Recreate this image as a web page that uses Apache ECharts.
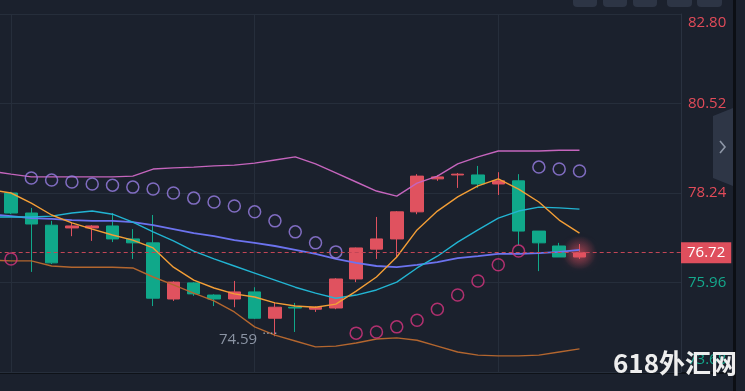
<!DOCTYPE html>
<html><head><meta charset="utf-8">
<script src="https://cdn.jsdelivr.net/npm/echarts@6/dist/echarts.min.js"></script>
<style>html,body{margin:0;padding:0;background:#1b212d;overflow:hidden}#c{width:745px;height:391px}</style>
</head><body><div id="c"></div>
<script>
const categories = ['k00','k01','k02','k03','k04','k05','k06','k07','k08','k09','k10','k11','k12','k13','k14','k15','k16','k17','k18','k19','k20','k21','k22','k23','k24','k25','k26','k27','k28','k29','k30','k31','k32','k33','k34'];
const opens  = [null, 78.24, 77.73, 77.42, 77.35, 77.35, 77.40, 77.07, 76.97, 75.54, 75.95, 75.64, 75.54, 75.72, 75.05, 75.33, 75.28, 75.31, 76.05, 76.81, 77.07, 77.76, 78.60, 78.70, 78.70, 78.47, 78.55, 77.27, 76.89, 76.61];
const closes = [null, 77.73, 77.45, 76.46, 77.40, 77.40, 77.07, 76.97, 75.56, 75.97, 75.67, 75.54, 75.72, 75.05, 75.33, 75.31, 75.33, 76.05, 76.84, 77.07, 77.76, 78.67, 78.65, 78.72, 78.47, 78.55, 77.27, 76.97, 76.61, 76.72];
const lows   = [null, 77.70, 76.23, 76.43, 77.14, 77.02, 76.99, 76.56, 75.36, 75.49, 75.62, 75.36, 75.33, 75.03, 74.59, 74.70, 75.21, 75.28, 75.97, 76.56, 76.58, 77.70, 78.55, 78.37, 78.37, 78.19, 76.91, 76.25, 76.61, 76.56];
const highs  = [null, 78.27, 77.86, 77.53, 77.48, 77.42, 77.73, 77.32, 77.68, 75.99, 75.97, 75.66, 76.00, 75.84, 75.44, 75.44, 75.35, 76.07, 76.85, 77.63, 77.78, 78.72, 78.70, 78.75, 78.93, 78.77, 78.72, 77.27, 76.97, 76.94];
const bollUpper = [78.80, 78.72, 78.65, 78.65, 78.65, 78.65, 78.65, 78.67, 78.85, 78.88, 78.90, 78.93, 78.95, 79.00, 79.08, 79.16, 78.98, 78.75, 78.52, 78.29, 78.16, 78.49, 78.67, 78.98, 79.16, 79.31, 79.31, 79.31, 79.33, 79.33];
const bollMid   = [77.70, 77.65, 77.60, 77.58, 77.55, 77.53, 77.53, 77.50, 77.42, 77.32, 77.22, 77.14, 77.04, 76.97, 76.89, 76.79, 76.69, 76.56, 76.46, 76.38, 76.35, 76.41, 76.48, 76.58, 76.63, 76.69, 76.69, 76.71, 76.74, 76.79];
const bollLower = [76.53, 76.51, 76.51, 76.38, 76.35, 76.35, 76.35, 76.33, 76.10, 75.90, 75.69, 75.49, 75.21, 74.83, 74.62, 74.47, 74.32, 74.34, 74.42, 74.52, 74.55, 74.49, 74.34, 74.19, 74.11, 74.09, 74.09, 74.11, 74.19, 74.27];
const maFast = [78.32, 78.24, 77.98, 77.68, 77.48, 77.32, 77.17, 77.04, 76.84, 76.35, 76.02, 75.82, 75.67, 75.59, 75.44, 75.36, 75.33, 75.41, 75.74, 76.10, 76.61, 77.30, 77.78, 78.14, 78.42, 78.60, 78.34, 78.01, 77.55, 77.22];
const maSlow = [77.63, 77.63, 77.63, 77.65, 77.73, 77.78, 77.70, 77.50, 77.25, 77.02, 76.76, 76.56, 76.38, 76.20, 76.02, 75.84, 75.69, 75.56, 75.64, 75.77, 75.97, 76.33, 76.63, 76.99, 77.30, 77.60, 77.78, 77.88, 77.86, 77.83];
const sar = [null, 76.56, 78.62, 78.57, 78.52, 78.47, 78.44, 78.39, 78.34, 78.24, 78.11, 78.01, 77.91, 77.76, 77.53, 77.25, 76.97, 76.74, 74.67, 74.70, 74.83, 75.00, 75.28, 75.64, 76.00, 76.41, 76.76, 78.90, 78.85, 78.80];
const yTicks = [73.68, 75.96, 78.24, 80.52, 82.80];

const RED = '#e0525f', GREEN = '#10a88a', TEAL_TXT = '#14a88c', RED_TXT = '#e24b59';
const lastIdx = closes.length - 1;
const lastPrice = closes[lastIdx];
const yMin = yTicks[0], yMax = yTicks[yTicks.length - 1];
const yStep = Math.round((yTicks[1] - yTicks[0]) * 100) / 100;
const FONT = '"Open Sans", Roboto, sans-serif';

const candleData = opens.map((o, i) => {
  if (o == null) return '-';
  const v = [o, closes[i], lows[i], highs[i]];
  if (i === lastIdx) return { value: v, itemStyle: { shadowBlur: 14, shadowColor: 'rgba(240,85,100,1)' } };
  return v;
});
const sarData = sar.map((v, i) => v == null ? null : {
  value: [i, v],
  itemStyle: { borderColor: v > closes[i] ? '#9a80e6' : '#d7357f' }
});

function line(name, data, color, width) {
  return { name, type: 'line', data, symbol: 'none', silent: true, z: 3,
    lineStyle: { color, width: width || 1.4 }, itemStyle: { color } };
}

const chart = echarts.init(document.getElementById('c'), null, { renderer: 'canvas' });
chart.setOption({
  backgroundColor: '#1b212d',
  animation: false,
  grid: { left: -9.3, right: 64, top: 14, bottom: 19, containLabel: false, outerBoundsMode: 'none' },
  xAxis: {
    type: 'category', data: categories, boundaryGap: false,
    axisLine: { show: false }, axisTick: { show: false }, axisLabel: { show: false },
    splitLine: { show: true, interval: (i) => i >= 1 && (i - 1) % 12 === 0, lineStyle: { color: '#262e3b', width: 1 } }
  },
  yAxis: {
    type: 'value', position: 'right', min: yMin, max: yMax, interval: yStep,
    axisLine: { show: true, lineStyle: { color: '#2a3240' } },
    axisTick: { show: false },
    splitLine: { lineStyle: { color: '#262e3b' } },
    axisLabel: {
      margin: 7,
      formatter: function (v) {
        let key = v > lastPrice ? 'r' : 't';
        if (Math.abs(v - yMax) < 1e-6) key += 'Top';
        else if (Math.abs(v - yMin) < 1e-6) key += 'Bot';
        return '{' + key + '|' + v.toFixed(2) + '}';
      },
      rich: {
        r: { color: RED_TXT, fontSize: 15, fontFamily: FONT },
        rTop: { color: RED_TXT, fontSize: 15, fontFamily: FONT, padding: [18, 0, 0, 0] },
        t: { color: TEAL_TXT, fontSize: 15, fontFamily: FONT },
        tBot: { color: TEAL_TXT, fontSize: 15, fontFamily: FONT, padding: [0, 0, 24, 0] }
      }
    }
  },
  series: [
    {
      name: 'Glow', type: 'scatter', silent: true, z: 1,
      data: [[lastIdx, lastPrice]], symbol: 'circle', symbolSize: 34,
      itemStyle: {
        color: new echarts.graphic.RadialGradient(0.5, 0.5, 0.5, [
          { offset: 0, color: 'rgba(235,80,98,0.55)' },
          { offset: 0.6, color: 'rgba(235,80,98,0.22)' },
          { offset: 1, color: 'rgba(235,80,98,0)' }
        ])
      }
    },
    {
      name: 'K', type: 'candlestick', data: candleData, barWidth: 13, clip: false, z: 2,
      itemStyle: { color: RED, color0: GREEN, borderColor: RED, borderColor0: GREEN, borderWidth: 1 },
      markLine: {
        silent: true, symbol: ['none', 'none'], animation: false,
        lineStyle: { color: '#c24656', type: [4, 3], width: 1 },
        label: {
          position: 'end', distance: 0, formatter: lastPrice.toFixed(2),
          color: '#ffffff', backgroundColor: '#df4f5d', padding: [3, 6, 3, 6],
          fontSize: 15, fontFamily: FONT
        },
        data: [{ yAxis: lastPrice }]
      },
      markPoint: {
        silent: true, symbol: 'circle', symbolSize: 1, animation: false,
        itemStyle: { color: 'rgba(0,0,0,0)' },
        label: {
          show: true, position: 'left', distance: 1, offset: [4, 3],
          formatter: (p) => '{v|' + Number(p.value).toFixed(2) + '}{d|····}',
          rich: {
            v: { color: '#8b94a4', fontSize: 15, fontFamily: FONT },
            d: { color: '#9aa2b0', fontSize: 12, fontFamily: 'DejaVu Sans', padding: [0, 0, 9, 5] }
          }
        },
        data: [{ type: 'min', valueDim: 'lowest' }]
      }
    },
    line('BOLL-UP', bollUpper, '#c565bd', 1.4),
    line('BOLL-LOW', bollLower, '#b3662f', 1.4),
    line('BOLL-MID', bollMid, '#6c73ef', 1.8),
    line('MA-SLOW', maSlow, '#22b4d2', 1.4),
    line('MA-FAST', maFast, '#f39e36', 1.4),
    {
      name: 'SAR', type: 'scatter', data: sarData, symbol: 'circle', symbolSize: 12, z: 4, silent: true,
      itemStyle: { color: 'rgba(0,0,0,0)', borderWidth: 1.5 }
    }
  ],
  graphic: [
    { type: 'rect', shape: { x: 573, y: -10, width: 24, height: 17, r: 4 }, style: { fill: '#2d3545' } },
    { type: 'rect', shape: { x: 603, y: -10, width: 24, height: 17, r: 4 }, style: { fill: '#2d3545' } },
    { type: 'rect', shape: { x: 633, y: -10, width: 24, height: 17, r: 4 }, style: { fill: '#2d3545' } },
    { type: 'rect', shape: { x: 667, y: -10, width: 25, height: 17, r: 4 }, style: { fill: '#2d3545' } },
    { type: 'rect', shape: { x: 697, y: -10, width: 25, height: 17, r: 4 }, style: { fill: '#2d3545' } },
    { type: 'polygon', shape: { points: [[713, 116], [733, 108], [733, 186], [713, 178]] }, style: { fill: '#2e3646' } },
    { type: 'polyline', shape: { points: [[720, 141], [725, 147], [720, 153]] }, style: { stroke: '#8e97a7', lineWidth: 1.6, fill: null } },
    { type: 'line', shape: { x1: 0, y1: 373, x2: 734, y2: 373 }, style: { stroke: '#0e1218', lineWidth: 2 } },
    { type: 'rect', shape: { x: 733, y: 0, width: 3, height: 391 }, style: { fill: '#0c0f14' } },
    { type: 'text', left: 613, top: 350, z: 100,
      style: { text: '618外汇网', fill: '#eeeeee', font: 'bold 26px "Noto Sans CJK SC", sans-serif' } }
  ]
});
</script>
</body></html>
